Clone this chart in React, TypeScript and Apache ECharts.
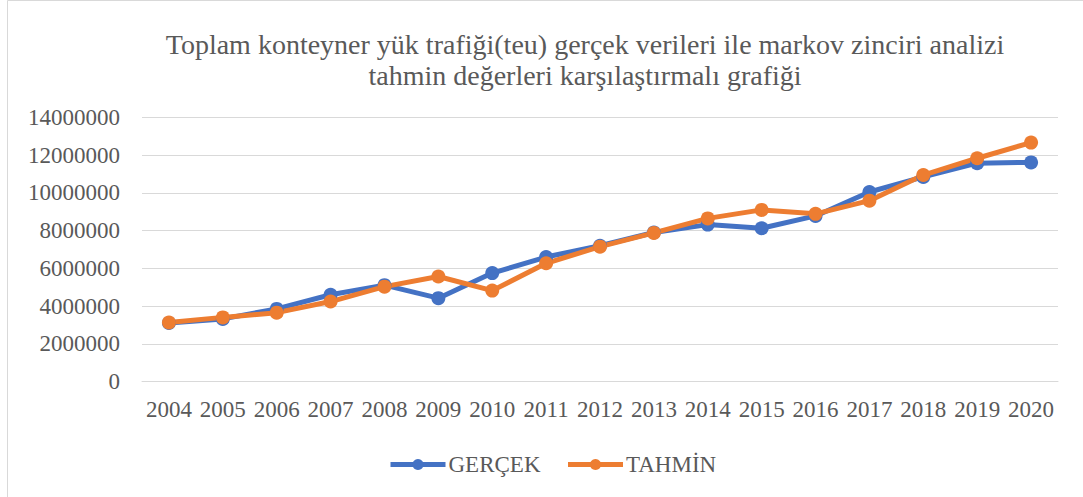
import React, { useEffect, useRef } from "react";
import * as echarts from "echarts";

const titleLines = [
  "Toplam konteyner yük trafiği(teu) gerçek verileri ile markov zinciri analizi",
  "tahmin değerleri karşılaştırmalı grafiği",
];
const years = ["2004","2005","2006","2007","2008","2009","2010","2011","2012","2013","2014","2015","2016","2017","2018","2019","2020"];
const gercek = [3100000,3320000,3850000,4600000,5110000,4420000,5750000,6600000,7200000,7900000,8320000,8130000,8780000,10050000,10850000,11580000,11620000];
const tahmin = [3130000,3400000,3650000,4240000,5030000,5570000,4820000,6270000,7150000,7880000,8650000,9100000,8890000,9590000,10950000,11840000,12670000];
const seriesNames = ["GERÇEK", "TAHMİN"];
const colors = ["#4472C4", "#ED7D31"];

const FONT = "'Liberation Serif', 'Times New Roman', serif";
const TEXT = "#595959";

export default function App() {
  const ref = useRef<HTMLDivElement>(null);
  useEffect(() => {
    document.body.style.margin = "0";
    const chart = echarts.init(ref.current!, null, { renderer: "svg" });
    const mk = (name: string, data: number[], color: string) => ({
      name,
      type: "line",
      data,
      symbol: "circle",
      symbolSize: 14,
      lineStyle: { width: 5, color },
      itemStyle: { color },
    });
    chart.setOption({
      animation: false,
      textStyle: { fontFamily: FONT },
      title: {
        text: titleLines.join("\n"),
        left: 580,
        top: 24,
        textAlign: "center",
        textStyle: { fontFamily: FONT, fontSize: 28, fontWeight: "normal", color: TEXT, lineHeight: 31 },
      },
      graphic: [
        {
          type: "rect",
          shape: { x: 7.5, y: 0.5, width: 2000, height: 2000 },
          style: { fill: "none", stroke: "#d9d9d9", lineWidth: 1 },
          silent: true,
        },
      ],
      legend: {
        data: seriesNames,
        left: 383,
        top: 448,
        itemWidth: 55,
        itemHeight: 14,
        itemGap: 25,
        lineStyle: { width: 5 },
        textStyle: { fontFamily: FONT, fontSize: 23, color: TEXT, padding: [0, 0, 0, -2] },
      },
      grid: { left: 142, right: 25, top: 117.5, bottom: 115.5, containLabel: false },
      xAxis: {
        type: "category",
        data: years,
        boundaryGap: true,
        axisLine: { lineStyle: { color: "#d9d9d9", width: 1 } },
        axisTick: { show: false },
        axisLabel: { fontFamily: FONT, fontSize: 23, color: TEXT, margin: 16, interval: 0 },
      },
      yAxis: {
        type: "value",
        min: 0,
        max: 14000000,
        interval: 2000000,
        axisLine: { show: false },
        axisTick: { show: false },
        splitLine: { lineStyle: { color: "#d9d9d9", width: 1 } },
        axisLabel: {
          fontFamily: FONT,
          fontSize: 23,
          color: TEXT,
          margin: 22,
          formatter: (v: number) => String(v),
        },
      },
      series: [mk(seriesNames[0], gercek, colors[0]), mk(seriesNames[1], tahmin, colors[1])],
    });
    return () => chart.dispose();
  }, []);
  return <div ref={ref} style={{ width: 1083, height: 497 }} />;
}
